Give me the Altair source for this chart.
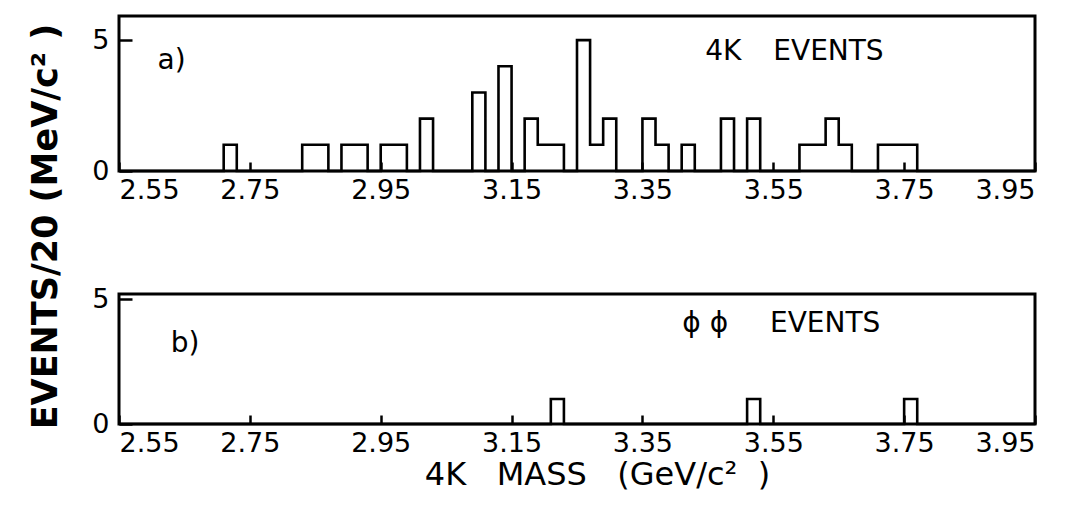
import altair as alt
import pandas as pd

# ---- data ----
# Panel a) 4K events: left edges of 20 MeV bins (GeV/c^2) and counts
a_edges = [2.71, 2.83, 2.85, 2.89, 2.91, 2.95, 2.97, 3.01, 3.09, 3.13, 3.17, 3.19,
           3.21, 3.25, 3.27, 3.29, 3.35, 3.37, 3.41, 3.47, 3.51, 3.59, 3.61, 3.63,
           3.65, 3.71, 3.73, 3.75]
a_counts = [1, 1, 1, 1, 1, 1, 1, 2, 3, 4, 2, 1,
            1, 5, 1, 2, 2, 1, 1, 2, 2, 1, 1, 2,
            1, 1, 1, 1]
# Panel b) phi-phi events
b_edges = [3.21, 3.51, 3.75]
b_counts = [1, 1, 1]

x_ticks = [2.55, 2.75, 2.95, 3.15, 3.35, 3.55, 3.75, 3.95]
y_ticks = [0, 5]
BIN = 0.02
X_MIN, X_MAX = 2.55, 3.95


def dense(edges, counts):
    n = int(round((X_MAX - X_MIN) / BIN))
    vals = [0] * n
    for e, c in zip(edges, counts):
        vals[int(round((e - X_MIN) / BIN))] = c
    xs = [round(X_MIN + BIN * i, 2) for i in range(n)] + [X_MAX]
    ys = vals + [0]
    return pd.DataFrame({"x": xs, "y": ys, "i": list(range(n + 1))})


W = 916
FONT = "DejaVu Sans"
one = pd.DataFrame({"_": [0]})


def panel(edges, counts, ymax, height, xtitle, ytitle, texts):
    df = dense(edges, counts)
    if xtitle:
        xaxis = alt.Axis(values=x_ticks, format=".2f", title=xtitle,
                         titleFontSize=32, titleFontWeight="normal", titlePadding=3,
                         titleX=478, titleAlign="center")
    else:
        xaxis = alt.Axis(values=x_ticks, format=".2f", title=None)
    if ytitle:
        yaxis = alt.Axis(values=y_ticks, format="d", title=ytitle, titleAngle=270,
                         titleFontSize=35, titleFontWeight="bold", titleBaseline="middle",
                         titleAlign="center", titleX=-87, titleY=210)
    else:
        yaxis = alt.Axis(values=y_ticks, format="d", title=None)
    xs = alt.Scale(domain=[X_MIN, X_MAX], nice=False, zero=False)
    ys = alt.Scale(domain=[0, ymax], nice=False)
    line = alt.Chart(df).mark_line(
        interpolate="step-after", color="black", strokeWidth=2.6
    ).encode(
        x=alt.X("x:Q", scale=xs, axis=xaxis),
        y=alt.Y("y:Q", scale=ys, axis=yaxis),
        order="i:O",
    )
    layers = [line]
    for t, xv, yv in texts:
        layers.append(
            alt.Chart(one).mark_text(
                text=t, align="left", baseline="middle", font=FONT, fontSize=28, color="black"
            ).encode(x=alt.X(datum=xv, type="quantitative"),
                     y=alt.Y(datum=yv, type="quantitative"))
        )
    return alt.layer(*layers).properties(width=W, height=height)


top = panel(a_edges, a_counts, 5.92, 155, None, "EVENTS/20\u00a0(MeV/c\u00b2\u00a0)",
            [("a)", 2.609, 4.2), ("4K", 3.446, 4.55), ("EVENTS", 3.55, 4.55)])
bottom = panel(b_edges, b_counts, 5.2, 130,
               "4K\u00a0\u00a0\u00a0MASS\u00a0\u00a0\u00a0(GeV/c\u00b2\u00a0\u00a0)", None,
               [("b)", 2.629, 3.2), ("\u03d5\u00a0\u03d5", 3.411, 4.0), ("EVENTS", 3.545, 4.0)])

chart = alt.vconcat(top, bottom, spacing=123, bounds="flush").properties(
    padding={"left": 26, "top": 14, "right": 5, "bottom": 5},
    background="white",
).configure_view(
    stroke="black", strokeWidth=3
).configure_axis(
    domain=False, grid=False, tickColor="black", tickWidth=2.5,
    labelColor="black", labelFont=FONT, labelFontSize=27,
    titleColor="black", titleFont=FONT,
).configure_axisX(
    offset=-9, tickSize=9, labelPadding=6
).configure_axisY(
    offset=-13, tickSize=13, labelPadding=10, labelBaseline="middle"
)

chart.save("out.html", embed_options={"renderer": "svg", "actions": False})
